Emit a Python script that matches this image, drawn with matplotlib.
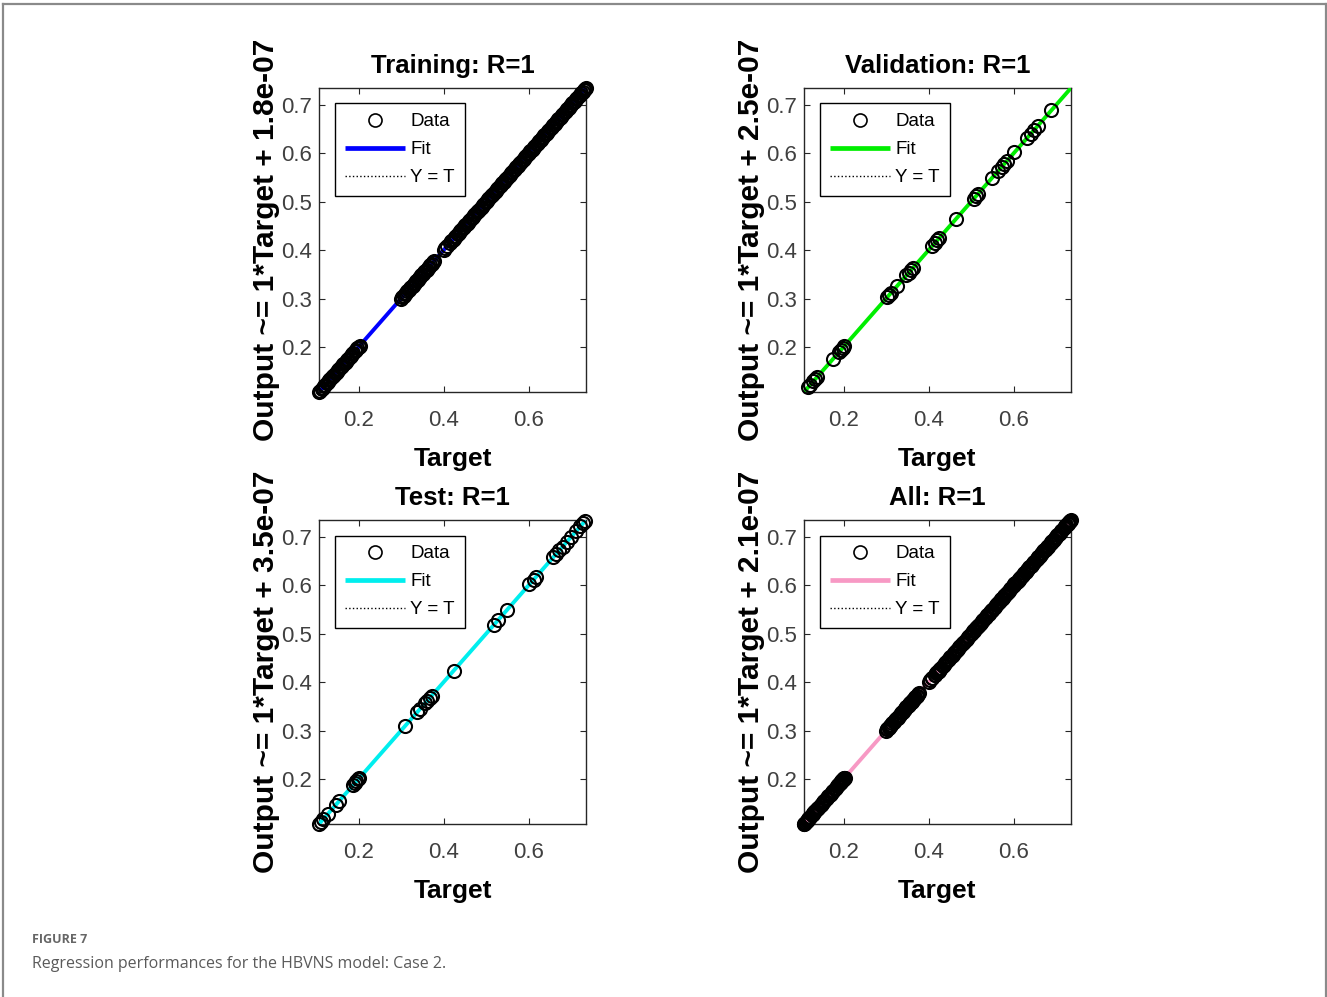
import matplotlib
matplotlib.use("Agg")
import matplotlib.pyplot as plt
from matplotlib.lines import Line2D
import numpy as np

# ---- data -------------------------------------------------------------
panel_titles = ["Training: R=1", "Validation: R=1", "Test: R=1", "All: R=1"]
fit_slopes = [1, 1, 1, 1]
fit_intercepts = ["1.8e-07", "2.5e-07", "3.5e-07", "2.1e-07"]
fit_colors = ["#0000ff", "#00ee00", "#00eeee", "#f799c4"]

train_targets = [
    0.107, 0.110, 0.113, 0.116, 0.119, 0.122, 0.125, 0.128, 0.131, 0.134,
    0.137, 0.140, 0.143, 0.146, 0.149, 0.152, 0.155, 0.158, 0.161, 0.164,
    0.167, 0.170, 0.173, 0.176, 0.179, 0.182, 0.185, 0.188, 0.191, 0.194,
    0.197, 0.200, 0.203,
    0.300, 0.303, 0.306, 0.309, 0.312, 0.315, 0.318, 0.321, 0.324, 0.327,
    0.330, 0.333, 0.336, 0.339, 0.342, 0.345, 0.348, 0.351, 0.354, 0.357,
    0.360, 0.363, 0.366, 0.369, 0.372, 0.375, 0.378,
    0.400, 0.404, 0.408,
    0.415, 0.418, 0.421, 0.424, 0.427, 0.430, 0.433, 0.436, 0.439, 0.442,
    0.445, 0.448, 0.451, 0.454, 0.457, 0.460, 0.463, 0.466, 0.469, 0.472,
    0.475, 0.478, 0.481, 0.484, 0.487, 0.490, 0.493, 0.496, 0.499, 0.502,
    0.505, 0.508, 0.511, 0.514, 0.517, 0.520, 0.523, 0.526, 0.529, 0.532,
    0.535, 0.538, 0.541, 0.544, 0.547, 0.550, 0.553, 0.556, 0.559, 0.562,
    0.565, 0.568, 0.571, 0.574, 0.577, 0.580, 0.583, 0.586, 0.589, 0.592,
    0.595, 0.598, 0.601, 0.604, 0.607, 0.610, 0.613, 0.616, 0.619, 0.622,
    0.625, 0.628, 0.631, 0.634, 0.637, 0.640, 0.643, 0.646, 0.649, 0.652,
    0.655, 0.658, 0.661, 0.664, 0.667, 0.670, 0.673, 0.676, 0.679, 0.682,
    0.685, 0.688, 0.691, 0.694, 0.697, 0.700, 0.703, 0.706, 0.709, 0.712,
    0.715, 0.718, 0.721, 0.724, 0.727, 0.730, 0.733, 0.735,
]
val_targets = [
    0.117, 0.122, 0.129, 0.134, 0.137, 0.176, 0.190, 0.194, 0.198, 0.201,
    0.303, 0.307, 0.311, 0.326, 0.348, 0.353, 0.358, 0.364, 0.409, 0.415,
    0.420, 0.425, 0.464, 0.506, 0.511, 0.516, 0.550, 0.563, 0.572, 0.578,
    0.585, 0.602, 0.632, 0.640, 0.648, 0.657, 0.689,
]
test_targets = [
    0.108, 0.112, 0.117, 0.127, 0.147, 0.155, 0.187, 0.191, 0.195, 0.199,
    0.202, 0.309, 0.338, 0.344, 0.356, 0.362, 0.367, 0.372, 0.424, 0.519,
    0.529, 0.550, 0.602, 0.612, 0.618, 0.658, 0.664, 0.672, 0.680, 0.690,
    0.700, 0.712, 0.722, 0.728, 0.732,
]
all_targets = train_targets + val_targets + test_targets

# network outputs coincide with targets (R = 1)
panel_targets = [train_targets, val_targets, test_targets, all_targets]
panel_outputs = [list(t) for t in panel_targets]

axis_limits = (0.107, 0.735)
x_ticks = [0.2, 0.4, 0.6]
y_ticks = [0.2, 0.3, 0.4, 0.5, 0.6, 0.7]

# ---- figure -----------------------------------------------------------
plt.rcParams["font.family"] = ["Liberation Sans", "DejaVu Sans"]
fig = plt.figure(figsize=(13.27, 9.97), dpi=100)

W, H = 1327, 997
panel_px = [(319, 88), (804, 88), (319, 520), (804, 520)]
ax_w, ax_h = 267, 304

for i, (px, py) in enumerate(panel_px):
    ax = fig.add_axes([px / W, 1 - (py + ax_h) / H, ax_w / W, ax_h / H])
    t = np.array(panel_targets[i])
    y = np.array(panel_outputs[i])
    lo, hi = axis_limits
    b = float(fit_intercepts[i])
    xs = np.array([lo, hi])

    ax.plot(xs, xs, ls=":", color="black", lw=1.0, zorder=2, label="Y = T")
    ax.plot(xs, fit_slopes[i] * xs + b, color=fit_colors[i], lw=2.8,
            solid_capstyle="butt", zorder=3, label="Fit")
    ax.plot(t, y, ls="none", marker="o", mfc="none", mec="black",
            ms=9.4, mew=1.5, zorder=4, label="Data", clip_on=False)

    ax.set_xlim(lo, hi)
    ax.set_ylim(lo, hi)
    ax.set_xticks(x_ticks)
    ax.set_yticks(y_ticks)
    ax.set_xticklabels([f"{v:.1f}" for v in x_ticks])
    ax.set_yticklabels([f"{v:.1f}" for v in y_ticks])
    ax.tick_params(direction="in", top=True, right=True, length=4, width=0.8,
                   labelsize=16, labelcolor="#404040", color="#262626")
    ax.tick_params(axis="x", pad=13)
    ax.tick_params(axis="y", pad=5)
    for s in ax.spines.values():
        s.set_color("#262626")
        s.set_linewidth(1.0)

    ax.set_title(panel_titles[i], fontsize=18.5, fontweight="bold", pad=11)
    ax.set_xlabel("Target", fontsize=19, fontweight="bold")
    ax.xaxis.set_label_coords(0.5, -0.181)
    ax.set_ylabel(f"Output ~= {fit_slopes[i]}*Target + {fit_intercepts[i]}",
                  fontsize=21.5, fontweight="bold")
    ax.yaxis.set_label_coords(-0.146, 0.5)

    handles, labels = ax.get_legend_handles_labels()
    order = [2, 1, 0]
    leg = ax.legend([handles[k] for k in order], [labels[k] for k in order],
                    loc="upper left", bbox_to_anchor=(16 / ax_w, 1 - 15.5 / ax_h),
                    borderaxespad=0, fontsize=13.5, frameon=True, fancybox=False,
                    edgecolor="black", framealpha=1, numpoints=1,
                    handlelength=3.2, handletextpad=0.3, borderpad=0.52,
                    labelspacing=0.58)
    leg.get_frame().set_linewidth(1.0)
    for h in leg.legend_handles:
        if h.get_label() == "Fit":
            h.set_linewidth(3.4)
        if h.get_label() == "Data":
            h.set_markeredgewidth(1.2)

# ---- page frame and caption --------------------------------------------
frame_kw = dict(color="#8a8a8a", lw=1.6, transform=fig.transFigure)
fig.add_artist(Line2D([3.5 / W, 1325.5 / W], [1 - 4.5 / H, 1 - 4.5 / H], **frame_kw))
fig.add_artist(Line2D([3.5 / W, 3.5 / W], [0, 1 - 4.5 / H], **frame_kw))
fig.add_artist(Line2D([1325.5 / W, 1325.5 / W], [0, 1 - 4.5 / H], **frame_kw))

fig.text(32 / W, 1 - 943 / H, "FIGURE 7", fontsize=9, color="#666666",
         fontweight="bold", family=["Open Sans", "DejaVu Sans"],
         va="baseline", ha="left")
fig.text(32 / W, 1 - 967.5 / H, "Regression performances for the HBVNS model: Case 2.",
         fontsize=11.5, color="#5a5a5a", family=["Open Sans", "DejaVu Sans"],
         va="baseline", ha="left")

fig.savefig("out.png", dpi=100, facecolor="white")
